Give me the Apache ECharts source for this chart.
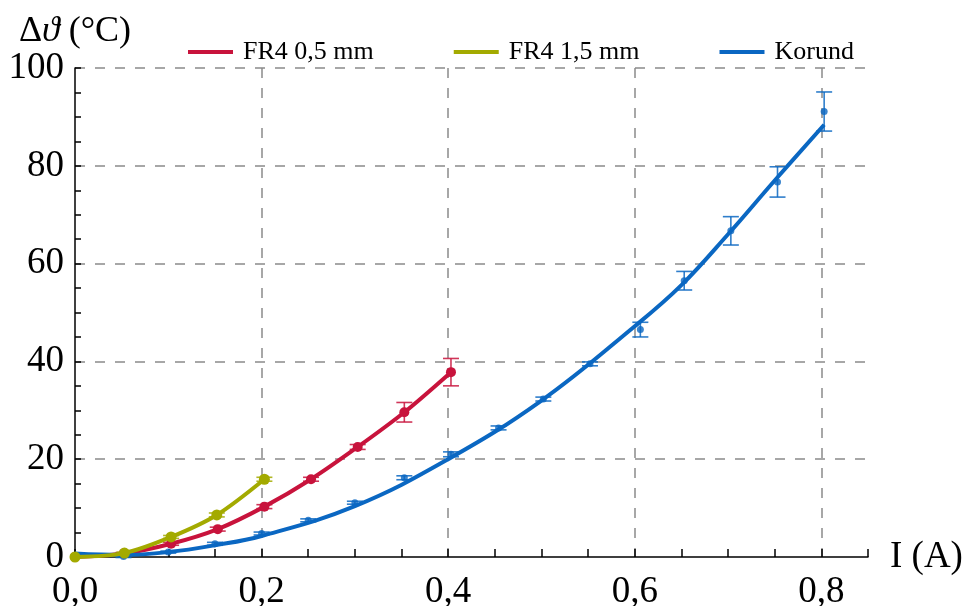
<!DOCTYPE html>
<html lang="de">
<head>
<meta charset="UTF-8">
<title>Erwärmung über Strom</title>
<script src="https://cdn.jsdelivr.net/npm/echarts@6.0.0/dist/echarts.min.js"></script>
<style>
  html, body { margin: 0; padding: 0; background: #fff; }
  #chart { width: 968px; height: 606px; }
</style>
</head>
<body>
<div id="chart"></div>
<script>
// FR4 0,5 mm - Messwerte (Strom in A, Erwärmung in °C, Fehler ±)
var fr405I = [0, 0.052, 0.103, 0.153, 0.203, 0.253, 0.303, 0.353, 0.403];
var fr405V = [0, 0.7, 2.7, 5.7, 10.3, 15.9, 22.5, 29.6, 37.8];
var fr405E = [0, 0.2, 0.3, 0.4, 0.4, 0.4, 0.5, 2.0, 2.8];

// FR4 1,5 mm
var fr415I = [0, 0.053, 0.103, 0.152, 0.203];
var fr415V = [0, 0.8, 4.1, 8.6, 15.9];
var fr415E = [0, 0.2, 0.3, 0.4, 0.4];

// Korund - Messwerte
var korI = [0.052, 0.1, 0.15, 0.2, 0.25, 0.3, 0.353, 0.403, 0.454, 0.502, 0.552, 0.606, 0.653, 0.703, 0.753, 0.803];
var korV = [0.1, 1.0, 2.7, 4.8, 7.5, 11.1, 16.2, 21.0, 26.4, 32.3, 39.5, 46.5, 56.5, 66.7, 76.7, 91.1];
var korE = [0.2, 0.2, 0.3, 0.3, 0.3, 0.3, 0.4, 0.5, 0.4, 0.4, 0.4, 1.5, 1.9, 2.9, 3.1, 4.0];

// Korund - Ausgleichskurve
var korFitI = [0, 0.05, 0.1, 0.15, 0.2, 0.3, 0.4, 0.5, 0.6, 0.65, 0.7, 0.75, 0.803];
var korFitV = [0.7, 0.4, 1.0, 2.4, 4.3, 10.4, 20.0, 32.0, 47.2, 55.6, 66.0, 77.0, 88.4];

var yTicks = [0, 20, 40, 60, 80, 100];

var FONT = 'Liberation Serif';
var RED = '#C8133C';
var OLIVE = '#A3AA00';
var BLUE = '#0A67C2';

function pairs(xs, ys) {
  return xs.map(function (x, i) { return [x, ys[i]]; });
}

function errorBars(xs, ys, es, color, z) {
  var data = [];
  xs.forEach(function (x, i) {
    if (es[i] > 0) data.push([x, ys[i] - es[i], ys[i] + es[i]]);
  });
  return {
    type: 'custom',
    silent: true,
    z: z,
    data: data,
    encode: { x: 0, y: [1, 2] },
    renderItem: function (params, api) {
      var lo = api.coord([api.value(0), api.value(1)]);
      var hi = api.coord([api.value(0), api.value(2)]);
      var half = 8;
      var st = { stroke: color, lineWidth: 1.6, opacity: 0.85 };
      return {
        type: 'group',
        children: [
          { type: 'line', shape: { x1: lo[0], y1: lo[1], x2: hi[0], y2: hi[1] }, style: st },
          { type: 'line', shape: { x1: lo[0] - half, y1: lo[1], x2: lo[0] + half, y2: lo[1] }, style: st },
          { type: 'line', shape: { x1: hi[0] - half, y1: hi[1], x2: hi[0] + half, y2: hi[1] }, style: st }
        ]
      };
    }
  };
}

var gridLine = { type: [10, 10], color: '#8a8a8a', width: 1.5 };

var option = {
  animation: false,
  backgroundColor: '#fff',
  grid: { left: 75, right: 100, top: 68, bottom: 49, containLabel: false, outerBoundsMode: 'none' },
  legend: {
    data: ['FR4 0,5 mm', 'FR4 1,5 mm', 'Korund'],
    left: 183,
    top: 34,
    icon: 'rect',
    itemWidth: 45,
    itemHeight: 4,
    itemGap: 80,
    textStyle: { fontFamily: FONT, fontSize: 26, color: '#000', padding: [0, 0, 0, 5] }
  },
  xAxis: [
    {
      type: 'value',
      min: 0,
      max: 0.85,
      interval: 0.05,
      name: 'I (A)',
      nameLocation: 'end',
      nameGap: 22,
      nameTextStyle: { fontFamily: FONT, fontSize: 37, color: '#000', verticalAlign: 'middle', padding: [4, 0, 0, 0] },
      axisLine: { show: true, lineStyle: { color: '#000', width: 1.5 } },
      axisTick: { show: true, inside: true, length: 8, lineStyle: { color: '#000', width: 1.5 } },
      axisLabel: {
        fontFamily: FONT,
        fontSize: 37,
        color: '#000',
        margin: 17,
        formatter: function (v) {
          var k = v / 0.2;
          if (Math.abs(k - Math.round(k)) > 1e-6) return '';
          return v.toFixed(1).replace('.', ',');
        }
      },
      splitLine: { show: false }
    },
    {
      type: 'value',
      min: 0,
      max: 0.85,
      interval: 0.2,
      axisLine: { show: false },
      axisTick: { show: false },
      axisLabel: { show: false },
      splitLine: { show: true, showMinLine: false, showMaxLine: false, lineStyle: gridLine }
    }
  ],
  yAxis: {
    type: 'value',
    min: yTicks[0],
    max: yTicks[yTicks.length - 1],
    interval: 20,
    name: '{n|Δ}{i|ϑ}{n| (°C)}',
    nameLocation: 'end',
    nameGap: 10,
    nameTextStyle: {
      fontFamily: FONT,
      fontSize: 36,
      color: '#000',
      rich: {
        n: { fontFamily: FONT, fontSize: 36, color: '#000' },
        i: { fontFamily: FONT, fontSize: 36, color: '#000', fontStyle: 'italic' }
      }
    },
    axisLine: { show: true, lineStyle: { color: '#000', width: 1.5 } },
    axisTick: { show: true, inside: true, length: 6, lineStyle: { color: '#000', width: 1.5 } },
    minorTick: { show: true, splitNumber: 4, length: 6, lineStyle: { color: '#000', width: 1.5 } },
    axisLabel: { fontFamily: FONT, fontSize: 37, color: '#000', margin: 11 },
    splitLine: { show: true, showMinLine: false, lineStyle: gridLine }
  },
  series: [
    errorBars(fr405I, fr405V, fr405E, RED, 2),
    {
      name: 'FR4 0,5 mm',
      type: 'line',
      z: 3,
      data: pairs(fr405I, fr405V),
      smooth: 0.3,
      symbol: 'circle',
      symbolSize: 10,
      itemStyle: { color: RED },
      lineStyle: { color: RED, width: 4 }
    },
    errorBars(fr415I, fr415V, fr415E, OLIVE, 4),
    {
      name: 'FR4 1,5 mm',
      type: 'line',
      z: 5,
      data: pairs(fr415I, fr415V),
      smooth: 0.3,
      symbol: 'circle',
      symbolSize: 11,
      itemStyle: { color: OLIVE },
      lineStyle: { color: OLIVE, width: 4 }
    },
    errorBars(korI, korV, korE, BLUE, 2),
    {
      name: 'Korund (Messwerte)',
      type: 'scatter',
      z: 3,
      data: pairs(korI, korV),
      symbol: 'circle',
      symbolSize: 7,
      itemStyle: { color: BLUE }
    },
    {
      name: 'Korund',
      type: 'line',
      z: 4,
      data: pairs(korFitI, korFitV),
      smooth: 0.4,
      showSymbol: false,
      itemStyle: { color: BLUE },
      lineStyle: { color: BLUE, width: 4 }
    }
  ]
};

var chart = echarts.init(document.getElementById('chart'));
chart.setOption(option);
</script>
</body>
</html>
